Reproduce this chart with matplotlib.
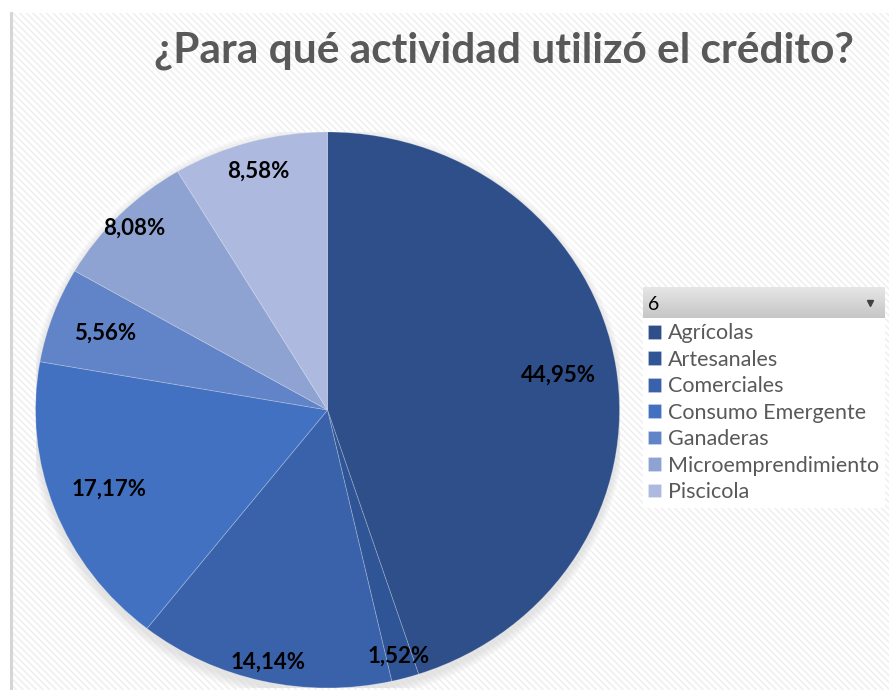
import numpy as np
import matplotlib
matplotlib.use("Agg")
import matplotlib.pyplot as plt
from matplotlib.patches import Rectangle, Ellipse

# data
categories = ["Agrícolas", "Artesanales", "Comerciales", "Consumo Emergente",
              "Ganaderas", "Microemprendimiento", "Piscicola"]
shares = [44.95, 1.52, 14.14, 17.17, 5.56, 8.08, 8.58]
colors = ["#2E4F89", "#2F5597", "#3A62AA", "#4371C2", "#6183C7", "#8FA3D3", "#ADB9DE"]
title = "¿Para qué actividad utilizó el crédito?"
filter_value = "6"

# label radius per wedge (Excel "best fit" placement)
label_r = [0.80, 0.92, 0.93, 0.80, 0.81, 0.93, 0.89]

plt.rcParams["font.family"] = ["Lato", "DejaVu Sans"]
plt.rcParams["hatch.linewidth"] = 1.0
plt.rcParams["hatch.color"] = "#EDEDED"

W, H = 889, 690
fig = plt.figure(figsize=(W / 100, H / 100), dpi=100)
fig.patch.set_facecolor("white")


def fx(px):
    return px / W


def fy(py):
    return 1 - py / H


# chart area with diagonal hatch
bg = fig.add_axes([0, 0, 1, 1], zorder=0)
bg.set_xlim(0, W)
bg.set_ylim(H, 0)
bg.axis("off")
bg.add_patch(Rectangle((11, 13), W - 11, H - 13, facecolor="white",
                       edgecolor="#EDEDED", hatch="\\" * 5, linewidth=0))
bg.plot([11, 11], [13, H], color="#D6D6D6", linewidth=2.2)

# pie (slightly wider than tall, like the source)
ax = fig.add_axes([fx(35.5), 2 / H, 584 / W, 556 / H], zorder=1)
for k in range(8, 0, -1):
    ax.add_patch(Ellipse((0, 0), 2 * (1 + 0.005 * k), 2 * (1 + 0.006 * k),
                         facecolor="white", edgecolor="none", alpha=0.18))
for k in range(6, 0, -1):
    ax.add_patch(Ellipse((0, -0.015), 2 * (1 + 0.004 * k), 2 * (1 + 0.006 * k),
                         facecolor="#BDBDBD", edgecolor="none", alpha=0.07))
wedges, _ = ax.pie(shares, colors=colors, startangle=90, counterclock=False,
                   wedgeprops={"edgecolor": (1, 1, 1, 0.25), "linewidth": 0.6})
ax.set_aspect("auto")
ax.set_xlim(-1, 1)
ax.set_ylim(-1, 1)
ax.axis("off")

for w, v, r in zip(wedges, shares, label_r):
    mid = np.deg2rad((w.theta1 + w.theta2) / 2)
    ax.text(r * np.cos(mid), r * np.sin(mid), f"{v:.2f}%".replace(".", ","),
            ha="center", va="center", fontsize=16, fontweight="bold", color="black")

# title
fig.text(fx(504), fy(62), title, ha="center", va="baseline",
         fontsize=30.5, fontweight="bold", color="#595959")

# pivot filter header above the legend
hdr = fig.add_axes([fx(643), fy(318), 242 / W, 31 / H], zorder=2)
grad = np.linspace(0, 1, 50).reshape(-1, 1)
hdr.imshow(grad, aspect="auto", cmap=matplotlib.colors.LinearSegmentedColormap.from_list(
    "hdr", ["#E6E6E6", "#C6C6C6"]), extent=(0, 1, 0, 1), origin="upper")
hdr.set_xlim(0, 1)
hdr.set_ylim(0, 1)
hdr.axis("off")
hdr.text(0.02, 0.45, filter_value, ha="left", va="center", fontsize=14, color="black")
hdr.plot([0.94], [0.48], marker="v", color="#404040", markersize=5)

leg = fig.legend(wedges, categories, loc="upper left", mode="expand",
                 bbox_to_anchor=(fx(643), fy(508), 242 / W, 190 / H), frameon=True,
                 facecolor="white", edgecolor="none", fancybox=False, framealpha=1,
                 fontsize=15.5, labelcolor="#595959", handlelength=0.6, handleheight=0.6,
                 handletextpad=0.3, labelspacing=0.3, borderpad=0.25,
                 borderaxespad=0)
leg.set_zorder(3)

fig.savefig("out.png", dpi=100)
